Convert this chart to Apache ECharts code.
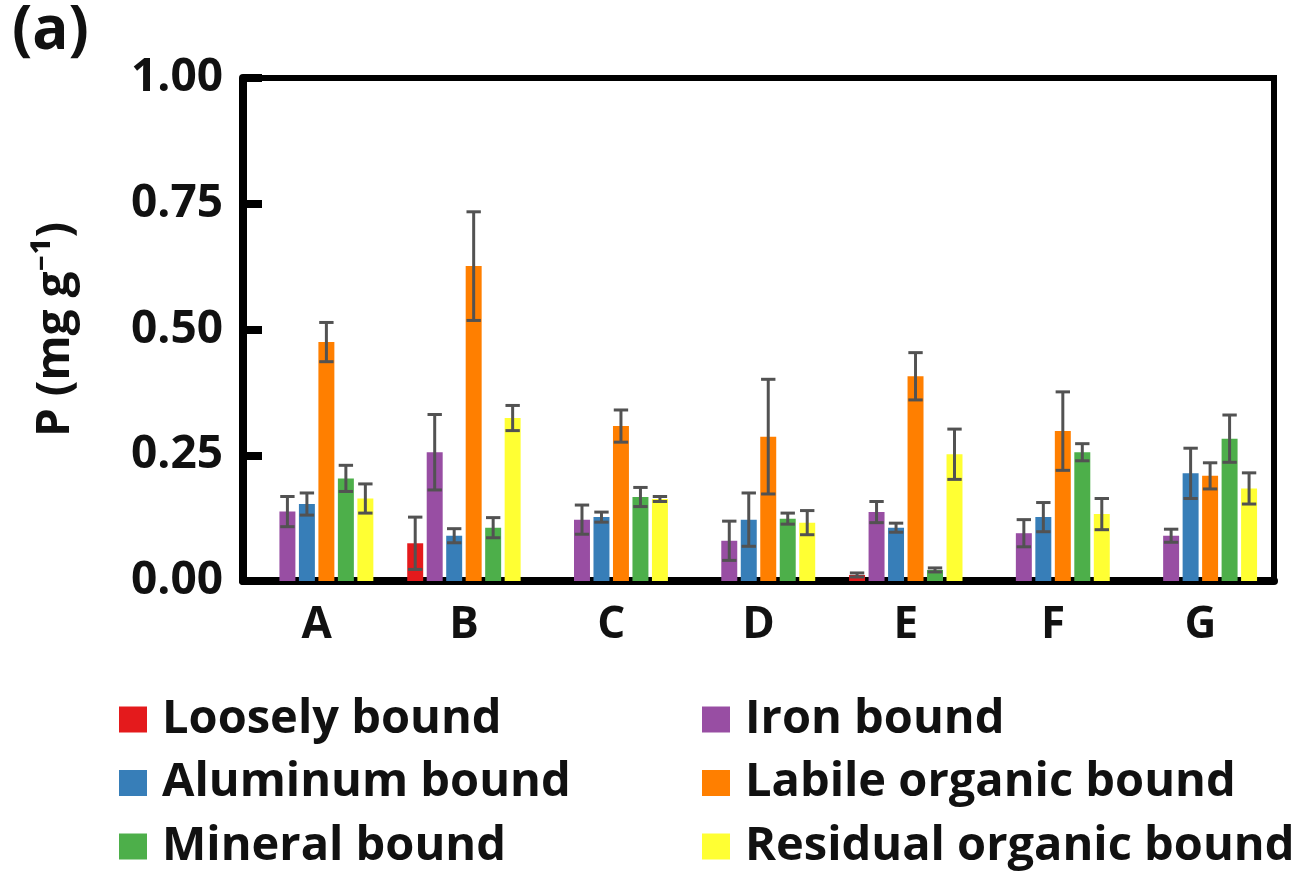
<!DOCTYPE html>
<html>
<head>
<meta charset="utf-8">
<script src="https://cdn.jsdelivr.net/npm/echarts@6/dist/echarts.min.js"></script>
<style>
  html, body { margin: 0; padding: 0; background: #fff; }
  #chart { width: 1306px; height: 873px; }
</style>
</head>
<body>
<div id="chart"></div>
<script>
// Soil phosphorus fractions per site (mg g^-1), mean and standard error
const categories = ['A', 'B', 'C', 'D', 'E', 'F', 'G'];
const seriesNames = ['Loosely bound', 'Iron bound', 'Aluminum bound',
  'Labile organic bound', 'Mineral bound', 'Residual organic bound'];
const seriesColors = ['#e41a1c', '#984ea3', '#377eb8', '#ff7f00', '#4daf4a', '#ffff33'];

const looselyBound   = [null, 0.075, null, null, 0.012, null, null];
const ironBound      = [0.138, 0.256, 0.122, 0.080, 0.137, 0.095, 0.090];
const aluminumBound  = [0.153, 0.090, 0.127, 0.122, 0.106, 0.127, 0.214];
const labileOrganic  = [0.475, 0.626, 0.308, 0.287, 0.407, 0.298, 0.209];
const mineralBound   = [0.204, 0.106, 0.167, 0.124, 0.022, 0.256, 0.283];
const residualOrganic= [0.164, 0.324, 0.163, 0.116, 0.252, 0.133, 0.184];

const looselyErr   = [null, 0.052, null, null, 0.004, null, null];
const ironErr      = [0.030, 0.075, 0.029, 0.039, 0.021, 0.027, 0.013];
const aluminumErr  = [0.022, 0.014, 0.010, 0.053, 0.009, 0.029, 0.050];
const labileErr    = [0.039, 0.108, 0.032, 0.114, 0.047, 0.078, 0.026];
const mineralErr   = [0.026, 0.020, 0.019, 0.011, 0.004, 0.017, 0.047];
const residualErr  = [0.029, 0.025, 0.005, 0.024, 0.050, 0.031, 0.031];

const yTicks = [0, 0.25, 0.5, 0.75, 1.0];

const means = [looselyBound, ironBound, aluminumBound, labileOrganic, mineralBound, residualOrganic];
const errs  = [looselyErr, ironErr, aluminumErr, labileErr, mineralErr, residualErr];

const CAT_GAP = 0.23;   // barCategoryGap fraction
const BAR_GAP = 0.22;   // barGap fraction
const nSeries = means.length;
const FONT = '"Open Sans", "Noto Sans", sans-serif';

const chart = echarts.init(document.getElementById('chart'), null, { renderer: 'canvas' });

const barSeries = means.map((vals, i) => ({
  name: seriesNames[i],
  type: 'bar',
  data: vals,
  barCategoryGap: (CAT_GAP * 100) + '%',
  barGap: (BAR_GAP * 100) + '%',
  itemStyle: { color: seriesColors[i] },
  emphasis: { disabled: true },
  z: 2
}));

// Error bars placed over the grouped bars using the same band arithmetic as the bar layout
function errorSeries(i) {
  const data = [];
  means[i].forEach((m, k) => {
    if (m != null && errs[i][k] != null) data.push([k, m - errs[i][k], m + errs[i][k]]);
  });
  return {
    type: 'custom',
    name: seriesNames[i] + ' error',
    data: data,
    z: 5,
    silent: true,
    renderItem: function (params, api) {
      const k = api.value(0);
      const lo = api.coord([k, api.value(1)]);
      const hi = api.coord([k, api.value(2)]);
      const band = api.size([1, 0])[0];
      const remain = band * (1 - CAT_GAP);
      const bw = remain / (nSeries + (nSeries - 1) * BAR_GAP);
      const total = nSeries * bw + (nSeries - 1) * bw * BAR_GAP;
      const cx = lo[0] - total / 2 + i * bw * (1 + BAR_GAP) + bw / 2;
      const half = bw * 0.45;
      const style = { stroke: '#525252', lineWidth: 3 };
      return {
        type: 'group',
        children: [
          { type: 'line', shape: { x1: cx, y1: lo[1], x2: cx, y2: hi[1] }, style: style },
          { type: 'line', shape: { x1: cx - half, y1: hi[1], x2: cx + half, y2: hi[1] }, style: style },
          { type: 'line', shape: { x1: cx - half, y1: lo[1], x2: cx + half, y2: lo[1] }, style: style }
        ]
      };
    }
  };
}

const legendText = {
  fontFamily: FONT, fontWeight: 'bold', fontSize: 47, color: '#111',
  lineHeight: 47, padding: [0, 0, 0, 10]
};
const legendCommon = {
  orient: 'vertical', top: 696, itemGap: 16.5, padding: 0,
  icon: 'rect', itemWidth: 28, itemHeight: 26,
  textStyle: legendText, selectedMode: false
};

const option = {
  animation: false,
  backgroundColor: '#ffffff',
  grid: {
    left: 243, right: 32, top: 78, bottom: 292,
    show: true, borderColor: '#000', borderWidth: 6, backgroundColor: 'transparent'
  },
  xAxis: {
    type: 'category',
    data: categories,
    axisLine: { show: true, lineStyle: { color: '#000', width: 8 } },
    axisTick: { show: false },
    axisLabel: { fontFamily: FONT, fontWeight: 'bold', fontSize: 44, color: '#111', margin: 22 },
    splitLine: { show: false }
  },
  yAxis: {
    type: 'value',
    min: yTicks[0], max: yTicks[yTicks.length - 1], interval: 0.25,
    name: 'P (mg g⁻¹)',
    nameLocation: 'middle',
    nameGap: 164,
    nameRotate: 90,
    nameTextStyle: { fontFamily: FONT, fontWeight: 'bold', fontSize: 46, color: '#111' },
    axisLine: { show: true, lineStyle: { color: '#000', width: 8 } },
    axisTick: { show: true, inside: true, length: 19, lineStyle: { color: '#000', width: 8 } },
    axisLabel: {
      fontFamily: FONT, fontWeight: 'bold', fontSize: 46, color: '#111', margin: 20,
      formatter: v => v.toFixed(2)
    },
    splitLine: { show: false }
  },
  legend: [
    Object.assign({ data: [seriesNames[0], seriesNames[2], seriesNames[4]], left: 119, height: 177 }, legendCommon),
    Object.assign({ data: [seriesNames[1], seriesNames[3], seriesNames[5]], left: 702, height: 177 }, legendCommon)
  ],
  graphic: [
    {
      type: 'text', left: 12, top: 2,
      style: { text: '(a)', fontFamily: FONT, fontWeight: 'bold', fontSize: 60, fill: '#111' }
    }
  ],
  series: barSeries.concat(means.map((_, i) => errorSeries(i)))
};

chart.setOption(option);
</script>
</body>
</html>
